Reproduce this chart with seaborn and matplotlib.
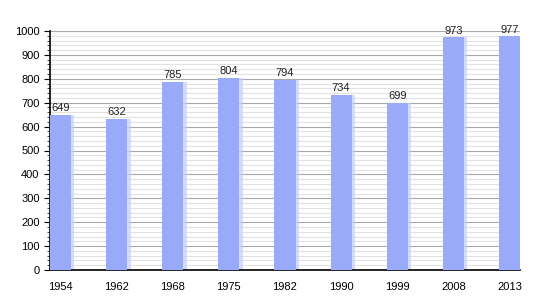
import matplotlib
matplotlib.use("Agg")
import matplotlib.pyplot as plt
import seaborn as sns
import pandas as pd
from matplotlib.ticker import MultipleLocator

years = ["1954", "1962", "1968", "1975", "1982", "1990", "1999", "2008", "2013"]
population = [649, 632, 785, 804, 794, 734, 699, 973, 977]

df = pd.DataFrame({"year": years, "pop": population})

sns.set_theme(style="white")
plt.rcParams['font.family'] = ['Liberation Sans', 'DejaVu Sans']

fig = plt.figure(figsize=(5.5, 3.0), dpi=100)
ax = fig.add_axes([50/550, 30/300, 470/550, 239/300])

ax.yaxis.set_major_locator(MultipleLocator(100))
ax.yaxis.set_minor_locator(MultipleLocator(20))
ax.grid(which="major", axis="y", color="#a8a8a8", lw=0.8, zorder=0)
ax.grid(which="minor", axis="y", color="#e2e2e2", lw=0.8, zorder=0)
ax.set_axisbelow(True)

bw = 0.375
# soft shadow on right edge
sns.barplot(data=df, x="year", y="pop", color="#c3cdfb", width=bw + 0.06,
            saturation=1, ax=ax, zorder=2, linewidth=0, edgecolor="none")
for p in ax.patches:
    p.set_x(p.get_x() + 0.03)
    p.set_alpha(0.7)
n_shadow = len(ax.patches)
sns.barplot(data=df, x="year", y="pop", color="#98aaf8", width=bw,
            saturation=1, ax=ax, zorder=3, linewidth=0, edgecolor="none")

for i, v in enumerate(population):
    ax.text(i, v + 8, str(v), ha="center", va="bottom", fontsize=8, color="#222222")

ax.set_xlim(-bw/2, len(years) - 1 + bw/2)
ax.set_ylim(0, 1000)
ax.set_xlabel("")
ax.set_ylabel("")
for s in ["top", "right"]:
    ax.spines[s].set_visible(False)
ax.spines["left"].set_color("black")
ax.spines["bottom"].set_color("black")
ax.spines["left"].set_linewidth(1.2)
ax.spines["bottom"].set_linewidth(1.2)
ax.tick_params(axis="y", which="major", left=True, length=4, width=0.8, labelsize=8, colors="black")
ax.tick_params(axis="y", which="minor", left=True, length=2, width=0.6)
ax.tick_params(axis="x", bottom=False, labelsize=8, colors="black", pad=3)

fig.savefig("out.png", dpi=100, facecolor="white")
